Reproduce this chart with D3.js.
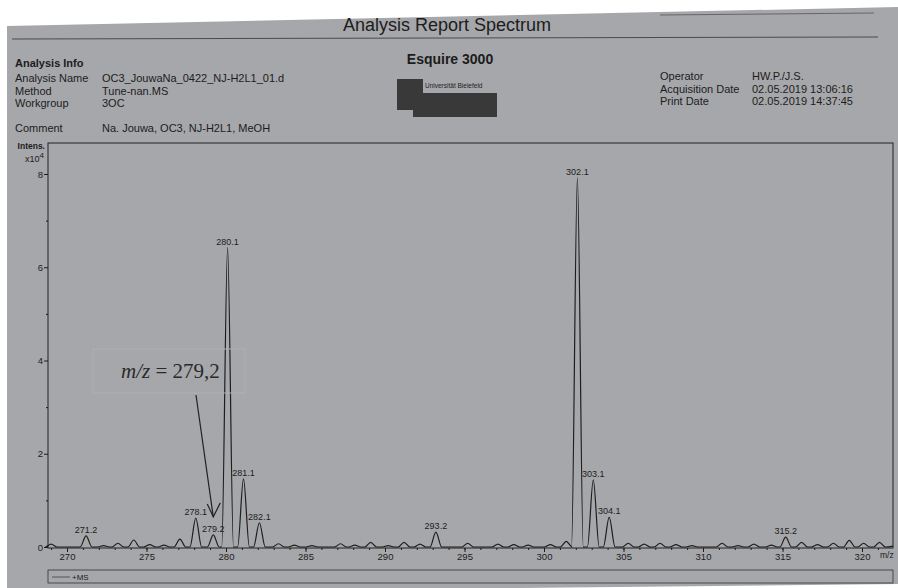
<!DOCTYPE html>
<html>
<head>
<meta charset="utf-8">
<script src="https://cdn.jsdelivr.net/npm/d3@7"></script>
<style>
  body { margin: 0; background: #fff; }
  svg { display: block; font-family: "Liberation Sans", Arial, sans-serif; }
</style>
</head>
<body>
<svg id="chart" width="898" height="588"></svg>
<script>
// peaks of the +MS trace: m/z and intensity (x10^4)
const peakMz = [269.0, 271.2, 272.3, 273.2, 274.2, 275.2, 276.1, 277.1, 278.1, 279.2, 280.1, 281.1, 282.1,
  283.3, 284.3, 285.4, 287.2, 288.1, 289.1, 290.2, 291.2, 292.2, 293.2, 295.2, 297.1, 298.1, 299.0,
  300.4, 301.4, 302.1, 303.1, 304.1, 305.3, 306.3, 307.3, 308.3, 309.3, 311.2, 312.2, 313.2, 314.3,
  315.2, 316.2, 317.2, 318.2, 319.2, 320.1, 321.1]
const peakInt = [0.06, 0.24, 0.03, 0.08, 0.15, 0.05, 0.04, 0.17, 0.62, 0.26, 6.42, 1.46, 0.52,
  0.07, 0.04, 0.03, 0.07, 0.04, 0.10, 0.03, 0.10, 0.06, 0.32, 0.08, 0.06, 0.05, 0.04,
  0.05, 0.12, 7.92, 1.44, 0.64, 0.08, 0.06, 0.08, 0.05, 0.03, 0.08, 0.03, 0.06, 0.04,
  0.21, 0.10, 0.05, 0.08, 0.14, 0.08, 0.10]
const peakLabels = ['271.2', '278.1', '279.2', '280.1', '281.1', '282.1', '293.2', '302.1', '303.1', '304.1', '315.2']
const xTicks = [270, 275, 280, 285, 290, 295, 300, 305, 310, 315, 320]
const yTicks = [0, 2, 4, 6, 8]

const infoLeft = [['Analysis Name', 'OC3_JouwaNa_0422_NJ-H2L1_01.d'], ['Method', 'Tune-nan.MS'], ['Workgroup', '3OC']]
const infoRight = [['Operator', 'HW.P./J.S.'], ['Acquisition Date', '02.05.2019 13:06:16'], ['Print Date', '02.05.2019 14:37:45']]

const svg = d3.select('#chart')
const ink = '#1c1c1c'

// scanned page
svg.append('polygon')
  .attr('points', '7,26 898,7 898,584 520,588 7,588')
  .attr('fill', '#a6a7aa')

// header
svg.append('text').attr('x', 447).attr('y', 31).attr('text-anchor', 'middle')
  .attr('font-size', 18).attr('fill', ink).text('Analysis Report Spectrum')
svg.append('line').attr('x1', 12).attr('x2', 878).attr('y1', 39).attr('y2', 37)
  .attr('stroke', '#333').attr('stroke-width', 0.8)
svg.append('line').attr('x1', 660).attr('x2', 874).attr('y1', 15).attr('y2', 13)
  .attr('stroke', '#555').attr('stroke-width', 0.8)

svg.append('text').attr('x', 15).attr('y', 67).attr('font-size', 11).attr('font-weight', 'bold')
  .attr('fill', ink).text('Analysis Info')
infoLeft.forEach((r, i) => {
  svg.append('text').attr('x', 15).attr('y', 82 + i * 12.5).attr('font-size', 11).attr('fill', ink).text(r[0])
  svg.append('text').attr('x', 102).attr('y', 82 + i * 12.5).attr('font-size', 11).attr('fill', ink).text(r[1])
})
svg.append('text').attr('x', 15).attr('y', 132).attr('font-size', 11).attr('fill', ink).text('Comment')
svg.append('text').attr('x', 102).attr('y', 132).attr('font-size', 11).attr('fill', ink).text('Na. Jouwa, OC3, NJ-H2L1, MeOH')

infoRight.forEach((r, i) => {
  svg.append('text').attr('x', 660).attr('y', 80 + i * 12.5).attr('font-size', 11).attr('fill', ink).text(r[0])
  svg.append('text').attr('x', 752).attr('y', 80 + i * 12.5).attr('font-size', 11).attr('fill', ink).text(r[1])
})

svg.append('text').attr('x', 450).attr('y', 64).attr('text-anchor', 'middle')
  .attr('font-size', 14).attr('font-weight', 'bold').attr('fill', ink).text('Esquire 3000')
svg.append('rect').attr('x', 397).attr('y', 79).attr('width', 26).attr('height', 31).attr('fill', '#393939')
svg.append('rect').attr('x', 413).attr('y', 93).attr('width', 84).attr('height', 24).attr('fill', '#393939')
svg.append('text').attr('x', 425).attr('y', 88).attr('font-size', 6.5).attr('fill', ink).text('Universität Bielefeld')

// plot
const m = { left: 48, right: 893, top: 143, bottom: 548 }
const x = d3.scaleLinear().domain([270, 320]).range([67, 862])
const y = d3.scaleLinear().domain([0, 8]).range([547, 174])

svg.append('rect').attr('x', m.left).attr('y', m.top).attr('width', m.right - m.left)
  .attr('height', m.bottom - m.top).attr('fill', 'none').attr('stroke', '#222').attr('stroke-width', 1)

const yAxis = svg.append('g').attr('transform', `translate(${m.left},0)`)
  .call(d3.axisLeft(y).tickValues(yTicks).tickSize(4).tickPadding(1).tickFormat(d3.format('d')))
yAxis.select('.domain').remove()
yAxis.selectAll('text').attr('font-size', 9.5).attr('fill', ink).attr('font-family', 'Liberation Sans, Arial')
yAxis.selectAll('line').attr('stroke', ink)
const yMinor = svg.append('g').attr('transform', `translate(${m.left},0)`)
  .call(d3.axisLeft(y).tickValues([1, 3, 5, 7]).tickSize(2).tickFormat(''))
yMinor.select('.domain').remove()
yMinor.selectAll('line').attr('stroke', ink)

const xAxis = svg.append('g').attr('transform', `translate(0,${m.bottom})`)
  .call(d3.axisBottom(x).tickValues(xTicks).tickSize(4).tickPadding(1).tickFormat(d3.format('d')))
xAxis.select('.domain').remove()
xAxis.selectAll('text').attr('font-size', 9.5).attr('fill', ink).attr('font-family', 'Liberation Sans, Arial')
xAxis.selectAll('line').attr('stroke', ink)
const xMinor = svg.append('g').attr('transform', `translate(0,${m.bottom})`)
  .call(d3.axisBottom(x).tickValues(d3.range(269, 322)).tickSize(2).tickFormat(''))
xMinor.select('.domain').remove()
xMinor.selectAll('line').attr('stroke', ink)

svg.append('text').attr('x', 880).attr('y', 558).attr('font-size', 8.5).attr('fill', ink).text('m/z')
svg.append('text').attr('x', 45).attr('y', 149).attr('text-anchor', 'end').attr('font-size', 8.5)
  .attr('font-weight', 'bold').attr('fill', ink).text('Intens.')
const xl = svg.append('text').attr('x', 44).attr('y', 162).attr('text-anchor', 'end').attr('font-size', 9).attr('fill', ink)
xl.append('tspan').text('x10')
xl.append('tspan').attr('dy', -4).attr('font-size', 8).text('4')

// trace built from the peak list
const hw = 0.37
const trace = [[268.8, 0.02]]
peakMz.forEach((mz, i) => {
  trace.push([mz - hw, 0], [mz, peakInt[i]], [mz + hw, 0])
})
trace.push([321.95, 0.02])
const line = d3.line().x(d => x(d[0])).y(d => y(d[1])).curve(d3.curveMonotoneX)
svg.append('path').datum(trace).attr('d', line).attr('fill', 'none')
  .attr('stroke', '#1e1e1e').attr('stroke-width', 1.2)

// peak labels
peakLabels.forEach(lab => {
  const mz = +lab
  const i = peakMz.indexOf(mz)
  svg.append('text').attr('x', x(mz)).attr('y', y(peakInt[i]) - 3)
    .attr('text-anchor', 'middle').attr('font-size', 9).attr('fill', ink).text(lab)
})

// annotation
const target = 279.2
const tipX = x(target), tipY = y(peakInt[peakMz.indexOf(target)]) - 18
svg.append('rect').attr('x', 93).attr('y', 349).attr('width', 152).attr('height', 44)
  .attr('fill', 'none').attr('stroke', '#afb0b3').attr('stroke-width', 1)
const ann = svg.append('text').attr('x', 121).attr('y', 378)
  .attr('font-family', '"Liberation Serif", "DejaVu Serif", serif').attr('font-size', 21).attr('fill', '#2a2a2a')
ann.append('tspan').attr('font-style', 'italic').text('m/z')
ann.append('tspan').text(' = 279,2')
svg.append('line').attr('x1', 196).attr('y1', 395).attr('x2', tipX).attr('y2', tipY)
  .attr('stroke', '#222').attr('stroke-width', 1.2)
svg.append('path').attr('d', `M${tipX - 6},${tipY - 13} L${tipX},${tipY} L${tipX + 7},${tipY - 14}`)
  .attr('fill', 'none').attr('stroke', '#222').attr('stroke-width', 1.2)

// legend
svg.append('rect').attr('x', 48).attr('y', 570).attr('width', 845).attr('height', 13)
  .attr('fill', 'none').attr('stroke', '#333').attr('stroke-width', 0.8)
svg.append('line').attr('x1', 52).attr('x2', 70).attr('y1', 577).attr('y2', 577).attr('stroke', '#555')
svg.append('text').attr('x', 72).attr('y', 580).attr('font-size', 8).attr('fill', ink).text('+MS')
</script>
</body>
</html>
